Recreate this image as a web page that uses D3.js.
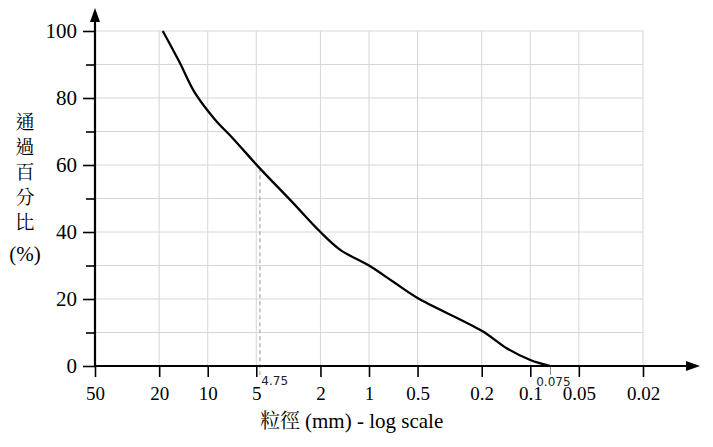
<!DOCTYPE html>
<html>
<head>
<meta charset="utf-8">
<script src="https://cdn.jsdelivr.net/npm/d3@7"></script>
</head>
<body style="margin:0">
<svg id="chart" width="713" height="447"></svg>
<script>
// ---- data ----
const sieveSizes = [19, 15, 12, 9, 7, 4.75, 3, 2, 1.5, 1, 0.7, 0.5, 0.2, 0.14, 0.1, 0.075];
const passingPct = [100, 90.8, 81.5, 73.5, 68, 59, 49, 40, 34.6, 30, 25, 20.3, 10.5, 5.3, 1.8, 0];
const xTickValues = [50, 20, 10, 5, 2, 1, 0.5, 0.2, 0.1, 0.05, 0.02];
const xTickLabels = ["50", "20", "10", "5", "2", "1", "0.5", "0.2", "0.1", "0.05", "0.02"];
const yTickValues = [0, 10, 20, 30, 40, 50, 60, 70, 80, 90, 100];
const yTickLabels = ["0", "", "20", "", "40", "", "60", "", "80", "", "100"];
const markSizes = [4.75, 0.075];
const markLabels = ["4.75", "0.075"];
const yTitleChars = ["通", "過", "百", "分", "比", "(%)"];
const xTitleCjk = "粒徑";
const xTitleRest = "(mm) - log scale";

const SERIF = "Liberation Serif";
const CJK = "Noto Serif CJK TC";
const SANS = "DejaVu Sans";

const svg = d3.select("#chart");

const x = d3.scaleLog().domain([50, 0.02]).range([95, 643]);
const y = d3.scaleLinear().domain([0, 100]).range([366, 31]);

// grid
const grid = svg.append("g");
grid.selectAll("line.h").data(yTickValues.filter(d => d > 0)).join("line")
  .attr("x1", x(50)).attr("x2", x(0.02))
  .attr("y1", d => y(d)).attr("y2", d => y(d))
  .attr("stroke", "#d6d6d6").attr("stroke-width", 1);
grid.selectAll("line.v").data(xTickValues.filter(d => d !== 50)).join("line")
  .attr("x1", d => x(d)).attr("x2", d => x(d))
  .attr("y1", y(100)).attr("y2", y(0))
  .attr("stroke", "#d6d6d6").attr("stroke-width", 1);

// dashed marker at 4.75
const p475 = passingPct[sieveSizes.indexOf(4.75)];
svg.append("line")
  .attr("x1", x(4.75)).attr("x2", x(4.75))
  .attr("y1", y(p475)).attr("y2", y(0) + 9)
  .attr("stroke", "#a8a8a8").attr("stroke-width", 1.2)
  .attr("stroke-dasharray", "4,3");

// small tick at 0.075
svg.append("line")
  .attr("x1", x(0.075)).attr("x2", x(0.075))
  .attr("y1", y(0)).attr("y2", y(0) + 9)
  .attr("stroke", "#888").attr("stroke-width", 1);

// marker labels
svg.selectAll("text.mark").data(markSizes).join("text")
  .attr("class", "mark")
  .attr("x", (d, i) => i === 0 ? x(d) + 1.5 : x(d) + 3)
  .attr("y", (d, i) => i === 0 ? 385 : 386)
  .attr("text-anchor", (d, i) => i === 0 ? "start" : "middle")
  .attr("font-family", SANS).attr("font-size", 12)
  .attr("fill", "#222")
  .text((d, i) => markLabels[i]);

// y axis
const yAxis = svg.append("g").attr("transform", `translate(${x(50)},0)`)
  .call(d3.axisLeft(y).tickValues(yTickValues)
    .tickFormat((d, i) => yTickLabels[i]).tickSize(12).tickPadding(6));
yAxis.attr("font-family", SERIF).attr("font-size", 21);
yAxis.select(".domain").remove();
yAxis.selectAll(".tick line")
  .attr("stroke", "#000").attr("stroke-width", 1.6)
  .attr("x2", d => d % 20 === 0 ? -12 : -9);
yAxis.selectAll(".tick text")
  .attr("font-family", SERIF).attr("font-size", 21).attr("fill", "#000");

// x axis
const xAxis = svg.append("g").attr("transform", `translate(0,${y(0)})`)
  .call(d3.axisBottom(x).tickValues(xTickValues)
    .tickFormat((d, i) => xTickLabels[i]).tickSize(11).tickPadding(8));
xAxis.attr("font-family", SERIF).attr("font-size", 19);
xAxis.select(".domain").remove();
xAxis.selectAll(".tick line").attr("stroke", "#000").attr("stroke-width", 1.6);
xAxis.selectAll(".tick text")
  .attr("font-family", SERIF).attr("font-size", 19).attr("fill", "#000")
  .attr("dy", 0).attr("y", 34);

// axis lines with arrows
svg.append("line").attr("x1", x(50)).attr("x2", x(50))
  .attr("y1", y(0) + 1).attr("y2", 20)
  .attr("stroke", "#000").attr("stroke-width", 2.2);
svg.append("path")
  .attr("d", `M${x(50)},8 L${x(50) - 5},22 L${x(50) + 5},22 Z`).attr("fill", "#000");
svg.append("line").attr("x1", x(50) - 1).attr("x2", 688)
  .attr("y1", y(0)).attr("y2", y(0))
  .attr("stroke", "#000").attr("stroke-width", 2.2);
svg.append("path")
  .attr("d", `M700,${y(0)} L686,${y(0) - 5} L686,${y(0) + 5} Z`).attr("fill", "#000");

// curve
const pts = sieveSizes.map((s, i) => [x(s), y(passingPct[i])]);
svg.append("path")
  .attr("d", d3.line().curve(d3.curveCatmullRom.alpha(0.5))(pts))
  .attr("fill", "none").attr("stroke", "#000").attr("stroke-width", 2.3)
  .attr("stroke-linejoin", "round");

// y title (vertical)
svg.selectAll("text.yt").data(yTitleChars).join("text")
  .attr("class", "yt")
  .attr("x", 25)
  .attr("y", (d, i) => i < 5 ? 129 + i * 25 : 261)
  .attr("text-anchor", "middle")
  .attr("font-family", (d, i) => i < 5 ? CJK : SERIF)
  .attr("font-size", (d, i) => i < 5 ? 19 : 21)
  .attr("fill", "#000")
  .text(d => d);

// x title (two pieces, CJK part and Latin part)
svg.append("text")
  .attr("x", 300).attr("y", 428)
  .attr("text-anchor", "end")
  .attr("font-family", CJK).attr("font-size", 20).attr("fill", "#000")
  .text(xTitleCjk);
svg.append("text")
  .attr("x", 305).attr("y", 428)
  .attr("text-anchor", "start")
  .attr("font-family", SERIF).attr("font-size", 21).attr("fill", "#000")
  .text(xTitleRest);
</script>
</body>
</html>
